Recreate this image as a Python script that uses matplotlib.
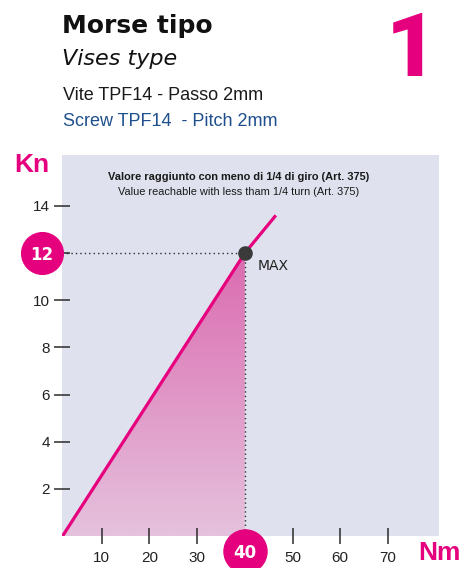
import numpy as np
import matplotlib
matplotlib.use('Agg')
import matplotlib.pyplot as plt
from matplotlib.colors import LinearSegmentedColormap

# Curva forza di serraggio (kN) in funzione della coppia (Nm)
torque_nm = [1.8, 40, 46.5]
force_kn = [0, 12, 13.6]
max_torque = 40
max_force = 12

x_ticks = [10, 20, 30, 50, 60, 70]
y_ticks = [2, 4, 6, 8, 10, 12, 14]
y_tick_labels = ['2', '4', '6', '8', '10', '', '14']

MAGENTA = '#e5007d'
BG = '#dfe2ee'
DARK = '#2b2b2b'
NARROW = ['Liberation Sans Narrow', 'Liberation Sans', 'DejaVu Sans']

fig = plt.figure(figsize=(4.65, 5.68), dpi=100)
W, H = 465, 568


def fx(px):
    return px / W


def fy(py):
    return 1 - py / H


ax = fig.add_axes([fx(62), fy(536), 377 / W, 381 / H])
ax.set_facecolor(BG)
for s in ax.spines.values():
    s.set_visible(False)

# area sotto la curva con sfumatura
poly = ax.fill_between([torque_nm[0], max_torque], [force_kn[0], max_force], 0,
                       facecolor='none', edgecolor='none')
cmap = LinearSegmentedColormap.from_list('rosa', ['#e5c2dd', '#db6bb0'])
grad = np.linspace(0, 1, 256).reshape(-1, 1)
img = ax.imshow(grad, cmap=cmap, origin='lower', aspect='auto',
                extent=[torque_nm[0], max_torque, 0, max_force], zorder=1)
img.set_clip_path(poly.get_paths()[0], transform=ax.transData)
ax.set_xlim(1.68, 80.7)
ax.set_ylim(0, 16.16)

ax.plot(torque_nm, force_kn, color='#e6007e', lw=2.3, zorder=3,
        solid_capstyle='butt')

# linee tratteggiate verso gli assi
dot = (0, (1, 2.2))
ax.plot([1.68, max_torque], [max_force, max_force], color=DARK, lw=1,
        linestyle=dot, zorder=2)
ax.plot([max_torque, max_torque], [max_force, -0.6], color=DARK, lw=1,
        linestyle=dot, zorder=2, clip_on=False)
ax.plot([max_torque], [max_force], 'o', color='#3a3a3a', ms=9.5, zorder=4)
ax.annotate('MAX', xy=(max_torque, max_force), xytext=(9.5, -12),
            textcoords='offset points', va='baseline', ha='left',
            fontsize=10, color='#222222')

ax.set_xticks(x_ticks)
ax.set_xticklabels([str(t) for t in x_ticks], family=NARROW, fontsize=11)
ax.set_yticks(y_ticks)
ax.set_yticklabels(y_tick_labels, family=NARROW, fontsize=11)
ax.tick_params(axis='both', direction='inout', length=11, width=1.1,
               color=DARK, labelcolor='#222222')
ax.tick_params(axis='x', pad=5)
ax.tick_params(axis='y', pad=3)

# cerchi evidenziati per i valori massimi
ax.plot([-0.053], [max_force], 'o', color=MAGENTA, ms=30, clip_on=False,
        transform=ax.get_yaxis_transform(), zorder=5)
ax.text(-0.053, max_force, str(max_force), color='white', fontsize=12,
        weight='bold', ha='center', va='center_baseline',
        transform=ax.get_yaxis_transform(), zorder=6)
ax.plot([max_torque], [-0.04], 'o', color=MAGENTA, ms=31, clip_on=False,
        transform=ax.get_xaxis_transform(), zorder=5)
ax.text(max_torque, -0.04, str(max_torque), color='white', fontsize=12,
        weight='bold', ha='center', va='center_baseline',
        transform=ax.get_xaxis_transform(), zorder=6)

ax.text(0.469, 0.934, 'Valore raggiunto con meno di 1/4 di giro (Art. 375)',
        transform=ax.transAxes, ha='center', va='baseline', fontsize=7.9,
        weight='bold', family=NARROW, color='#1a1a1a')
ax.text(0.469, 0.895, 'Value reachable with less tham 1/4 turn (Art. 375)',
        transform=ax.transAxes, ha='center', va='baseline', fontsize=7.9,
        family=NARROW, color='#1a1a1a')

# unità degli assi
fig.text(fx(14), fy(172), 'Kn', color=MAGENTA, fontsize=19, weight='bold',
         family='Liberation Sans', va='baseline')
fig.text(fx(418), fy(560), 'Nm', color=MAGENTA, fontsize=19, weight='bold',
         family='Liberation Sans', va='baseline')

# intestazione
fig.text(fx(62), fy(33), 'Morse tipo', fontsize=18, weight='bold',
         color='#111111', va='baseline')
fig.text(fx(62), fy(65), 'Vises type', fontsize=16, style='italic',
         color='#111111', va='baseline')
fig.text(fx(63), fy(100), 'Vite TPF14 - Passo 2mm', fontsize=13,
         family='Liberation Sans', color='#1a1a1a', va='baseline')
fig.text(fx(63), fy(126), 'Screw TPF14  - Pitch 2mm', fontsize=13,
         family='Liberation Sans', color='#1f4f8c', va='baseline')
fig.text(fx(437), fy(76), '1', fontsize=64, weight='black',
         family=['Roboto', 'Liberation Sans'], color=MAGENTA, ha='right',
         va='baseline')

fig.savefig('out.png', dpi=100)
